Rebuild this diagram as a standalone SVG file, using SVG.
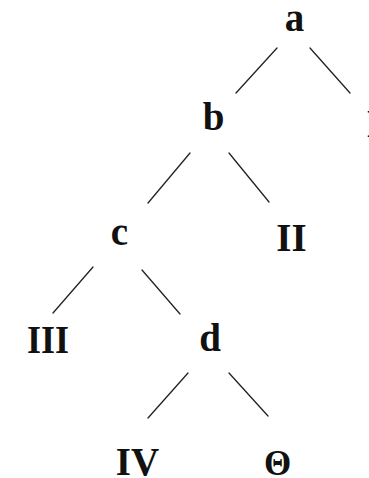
<svg xmlns="http://www.w3.org/2000/svg" width="369" height="478" viewBox="0 0 369 478">
<style>
.t{font-family:"Liberation Serif","Times New Roman",serif;font-weight:bold;font-size:39px;fill:#111;text-anchor:middle}
.e{stroke:#222;stroke-width:1.3;fill:none;stroke-linecap:round}
</style>
<rect width="369" height="478" fill="#fff"/>
<g id="connectors">
<line class="e" x1="277" y1="48" x2="236" y2="93"/>
<line class="e" x1="310" y1="48" x2="350" y2="93"/>
<line class="e" x1="190" y1="153" x2="148" y2="203"/>
<line class="e" x1="229" y1="153" x2="269" y2="202"/>
<line class="e" x1="93" y1="267" x2="53" y2="313"/>
<line class="e" x1="142" y1="270" x2="180" y2="314"/>
<line class="e" x1="188" y1="373" x2="148" y2="418"/>
<line class="e" x1="229" y1="373" x2="268" y2="416"/>
</g>
<g id="node-a"><text class="t" x="294.5" y="31">a</text></g>
<g id="node-b"><text class="t" x="213.5" y="130">b</text></g>
<g id="node-I"><text class="t" x="366.5" y="137" style="text-anchor:start">I</text></g>
<g id="node-c"><text class="t" x="119.5" y="245">c</text></g>
<g id="node-II"><text class="t" x="291.5" y="251">II</text></g>
<g id="node-III"><text class="t" x="48" y="353" textLength="42" lengthAdjust="spacingAndGlyphs">III</text></g>
<g id="node-d"><text class="t" x="210" y="351">d</text></g>
<g id="node-IV"><text class="t" x="137.5" y="475">IV</text></g>
<g id="node-theta"><text class="t" x="277.5" y="475" style="font-size:35px">Θ</text></g>
</svg>
